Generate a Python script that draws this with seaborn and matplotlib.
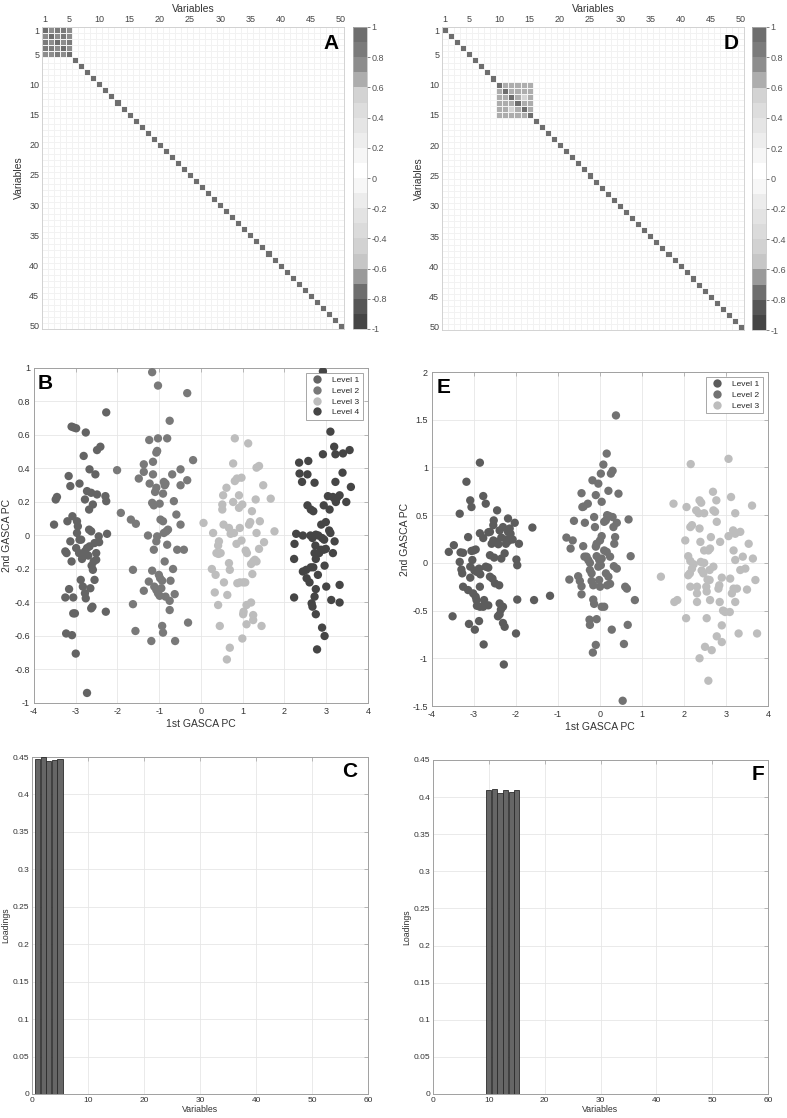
import numpy as np
import pandas as pd
import matplotlib
matplotlib.use("Agg")
import matplotlib.pyplot as plt
import seaborn as sns
from matplotlib.colors import ListedColormap

sns.set_style("white")
plt.rcParams['font.family'] = ['Liberation Sans', 'DejaVu Sans']
plt.rcParams['axes.unicode_minus'] = False

# ---------------- data ----------------
variables = list(range(1, 51))
var_ticks = [1, 5, 10, 15, 20, 25, 30, 35, 40, 45, 50]

block_a_vars = [1, 2, 3, 4, 5]
block_a_corr = [
    [1.00, 0.78, 0.83, 0.84, 0.76],
    [0.78, 1.00, 0.77, 0.82, 0.74],
    [0.83, 0.77, 1.00, 0.79, 0.81],
    [0.84, 0.82, 0.79, 1.00, 0.78],
    [0.76, 0.74, 0.81, 0.78, 1.00],
]
block_d_vars = [10, 11, 12, 13, 14, 15]
block_d_corr = [
    [1.00, 0.65, 0.64, 0.66, 0.63, 0.65],
    [0.65, 1.00, 0.66, 0.64, 0.65, 0.64],
    [0.64, 0.66, 1.00, 0.65, 0.55, 0.66],
    [0.66, 0.64, 0.65, 1.00, 0.64, 0.65],
    [0.63, 0.65, 0.55, 0.64, 1.00, 0.66],
    [0.65, 0.64, 0.66, 0.65, 0.66, 1.00],
]
cbar_colors = ['#454545', '#565656', '#6e6e6e', '#9a9a9a', '#c6c6c6',
               '#d2d2d2', '#dbdbdb', '#e3e3e3', '#ececec', '#f7f7f7',
               '#ffffff', '#f6f6f6', '#ededed', '#e5e5e5', '#dddddd',
               '#d3d3d3', '#adadad', '#8d8d8d', '#7b7b7b', '#6e6e6e']
cbar_ticks = [-1, -0.8, -0.6, -0.4, -0.2, 0, 0.2, 0.4, 0.6, 0.8, 1]

b_l1_x = [-3.52, -3.48, -3.45, -3.25, -3.22, -3.25, -3.20, -3.17, -3.16, -3.13, -3.13, -3.10, -3.10, -3.05,
          -2.99, -3.23, -3.09, -3.06, -3.02, -3.06, -3.08, -3.00, -2.97, -2.95, -2.97, -2.91, -2.91, -2.88,
          -2.87, -2.99, -2.92, -2.83, -2.78, -2.73, -2.67, -2.83, -2.81, -2.78, -2.76, -2.78, -2.76, -2.73,
          -2.63, -2.73, -2.68, -2.68, -2.63, -2.67, -2.65, -2.63, -2.60, -2.59, -2.55, -2.59, -2.57, -2.51,
          -2.53, -2.49, -2.49, -2.41, -2.51, -2.55, -2.45, -2.44, -2.29, -2.27, -2.27, -2.28, -2.25,
          -2.85, -2.70, -2.62]
b_l1_y = [0.065, 0.215, 0.23, -0.095, -0.105, -0.37, 0.085, 0.355, -0.32, 0.295, -0.035, -0.155, 0.65, 0.645,
          0.64, -0.585, -0.595, -0.465, -0.465, -0.37, 0.115, -0.705, 0.085, 0.055, 0.015, -0.025, 0.31, -0.265,
          -0.025, -0.075, -0.105, -0.125, -0.095, -0.075, -0.065, -0.305, 0.475, 0.215, 0.615, -0.345, -0.375, 0.265,
          0.255, -0.94, 0.155, 0.035, 0.025, 0.395, -0.315, -0.435, -0.425, 0.185, -0.045, -0.205, -0.155, -0.145,
          0.365, 0.245, 0.51, 0.53, -0.105, -0.265, -0.005, -0.04, 0.235, 0.205, 0.735, -0.455, 0.01,
          -0.14, -0.12, -0.18]

b_l2_x = [-2.01, -1.92, -1.68, -1.56, -1.63, -1.63, -1.57, -1.49, -1.37, -1.37, -1.37, -1.27, -1.25, -1.24,
          -1.23, -1.19, -1.17, -1.15, -1.15, -1.17, -1.13, -1.17, -1.13, -1.12, -1.10, -1.07, -1.07, -1.05,
          -1.03, -1.05, -1.07, -1.03, -1.07, -1.03, -0.99, -1.01, -0.98, -0.93, -0.99, -0.97, -0.91, -0.95,
          -0.91, -0.89, -0.87, -0.85, -0.93, -0.91, -0.89, -0.83, -0.79, -0.85, -0.87, -0.81, -0.81, -0.75,
          -0.75, -0.75, -0.73, -0.69, -0.67, -0.65, -0.63, -0.62, -0.59, -0.57, -0.49, -0.49, -0.49, -0.41,
          -0.33, -0.33, -0.31, -0.19]
b_l2_y = [0.39, 0.135, 0.095, 0.07, -0.205, -0.41, -0.57, 0.34, 0.38, 0.425, -0.33, 0.0, -0.275, 0.57,
          0.31, -0.63, 0.975, 0.365, 0.44, -0.21, 0.18, 0.195, -0.085, -0.305, 0.26, 0.285, 0.495, 0.505,
          0.58, -0.005, -0.035, 0.895, -0.325, -0.345, -0.36, -0.235, -0.255, -0.27, 0.19, 0.095, 0.085, -0.315,
          0.25, 0.32, 0.30, 0.31, -0.54, -0.58, 0.015, 0.025, 0.035, -0.365, -0.155, 0.58, -0.055, 0.685,
          -0.39, -0.445, -0.27, 0.365, -0.20, 0.205, -0.35, -0.63, 0.125, -0.085, 0.395, 0.30, 0.065, -0.085,
          0.85, 0.33, -0.52, 0.45]

b_l3_x = [0.06, 0.29, 0.26, 0.33, 0.35, 0.41, 0.45, 0.41, 0.43, 0.37, 0.42, 0.47, 0.53, 0.51, 0.51, 0.54,
          0.55, 0.61, 0.63, 0.62, 0.69, 0.67, 0.67, 0.69, 0.71, 0.77, 0.77, 0.79, 0.81, 0.81, 0.86, 0.85,
          0.87, 0.91, 0.91, 0.93, 0.93, 1.01, 1.06, 0.97, 0.97, 0.99, 0.99, 1.01, 1.02, 1.07, 1.09, 1.09,
          1.10, 1.13, 1.15, 1.18, 1.20, 1.20, 1.22, 1.23, 1.25, 1.29, 1.33, 1.25, 1.25, 1.31, 1.33, 1.33,
          1.39, 1.41, 1.39, 1.45, 1.49, 1.51, 1.67, 1.76]
b_l3_y = [0.075, 0.015, -0.20, -0.34, -0.235, -0.415, -0.54, -0.06, -0.035, -0.105, -0.11, -0.105, 0.24, 0.185,
          0.155, 0.065, -0.28, 0.285, -0.355, -0.74, -0.67, 0.045, -0.165, -0.205, 0.01, 0.43, 0.20, 0.015,
          0.58, 0.325, 0.34, -0.05, -0.285, 0.24, 0.165, 0.045, -0.28, -0.28, -0.28, 0.345, -0.03, 0.185,
          -0.615, -0.47, -0.455, -0.09, -0.415, -0.53, -0.105, 0.55, 0.065, 0.08, -0.17, -0.40, 0.145, -0.23,
          -0.155, -0.145, -0.155, -0.505, -0.475, 0.215, 0.015, 0.405, 0.415, 0.085, -0.08, -0.54, 0.30, -0.04,
          0.22, 0.025]

b_l4_x = [2.23, 2.23, 2.24, 2.28, 2.44, 2.35, 2.36, 2.42, 2.44, 2.52, 2.53, 2.60, 2.55, 2.57, 2.55, 2.63,
          2.69, 2.62, 2.67, 2.63, 2.69, 2.65, 2.67, 2.72, 2.72, 2.74, 2.75, 2.75, 2.72, 2.75, 2.75, 2.81,
          2.78, 2.80, 2.83, 2.87, 2.94, 2.99, 2.88, 2.90, 2.95, 2.90, 2.92, 2.92, 2.94, 2.96, 2.96, 2.99,
          3.00, 3.04, 3.07, 3.10, 3.08, 3.10, 3.12, 3.16, 3.20, 3.26, 3.32, 3.19, 3.22, 3.22, 3.20, 3.16,
          3.23, 3.32, 3.32, 3.39, 3.40, 3.48, 3.56, 3.59]
b_l4_y = [-0.37, -0.14, -0.05, 0.01, 0.0, 0.435, 0.37, 0.32, -0.215, -0.205, -0.255, -0.28, 0.365, 0.445,
          0.18, 0.155, 0.145, 0.0, -0.015, -0.19, -0.19, -0.405, -0.425, 0.315, -0.365, -0.06, -0.32, -0.14,
          -0.105, -0.47, 0.005, 0.0, -0.68, -0.235, -0.105, -0.085, -0.085, -0.08, 0.065, -0.015, -0.025, -0.55,
          0.485, 0.98, 0.18, -0.60, -0.18, 0.08, -0.305, 0.235, 0.03, 0.015, 0.155, 0.62, -0.385, 0.23,
          0.22, 0.225, 0.24, 0.53, 0.485, 0.32, -0.035, -0.105, 0.20, -0.295, -0.40, 0.375, 0.49, 0.20,
          0.51, 0.29]

e_l1_x = [-3.60, -3.48, -3.51, -3.34, -3.32, -3.26, -3.34, -3.30, -3.28, -3.26, -3.18, -3.14, -3.14, -3.12,
          -3.09, -3.09, -3.09, -3.06, -3.06, -3.01, -2.96, -3.04, -3.02, -2.96, -2.94, -2.98, -2.99, -2.93,
          -2.88, -2.93, -2.86, -2.86, -2.88, -2.86, -2.85, -2.86, -2.78, -2.78, -2.77, -2.76, -2.78, -2.72,
          -2.72, -2.66, -2.66, -2.66, -2.62, -2.62, -2.62, -2.56, -2.58, -2.54, -2.53, -2.54, -2.52, -2.50,
          -2.46, -2.42, -2.45, -2.43, -2.39, -2.40, -2.39, -2.39, -2.36, -2.31, -2.35, -2.35, -2.31, -2.31,
          -2.29, -2.27, -2.27, -2.24, -2.23, -2.18, -2.19, -2.19, -2.13, -2.15, -2.08, -2.03, -2.00, -1.97,
          -1.97, -1.99, -1.93, -1.61, -1.57, -1.19]
e_l1_y = [0.115, 0.185, -0.56, 0.515, 0.11, 0.105, 0.01, -0.07, -0.11, -0.25, 0.85, 0.27, -0.285, -0.64,
          -0.04, -0.155, 0.655, 0.585, 0.125, 0.13, 0.14, 0.03, -0.32, -0.355, -0.39, -0.70, -0.08, -0.095,
          -0.06, -0.45, -0.46, 0.31, -0.61, -0.25, -0.12, 1.05, 0.70, 0.26, -0.855, -0.39, -0.46, 0.62,
          -0.04, -0.05, -0.445, 0.32, 0.325, 0.08, -0.145, -0.165, 0.20, 0.235, 0.445, 0.395, 0.055, -0.215,
          0.22, 0.195, 0.55, -0.56, -0.54, -0.235, 0.34, -0.425, -0.49, -0.46, 0.045, 0.265, -0.63, 0.375,
          -1.065, -0.67, 0.10, 0.20, 0.245, 0.23, 0.465, 0.325, 0.305, 0.36, 0.245, 0.42, -0.74, -0.385,
          -0.025, 0.035, 0.20, 0.37, -0.39, -0.345]

e_l2_x = [-0.80, -0.73, -0.70, -0.65, -0.62, -0.52, -0.48, -0.44, -0.44, -0.44, -0.42, -0.39, -0.40, -0.37,
          -0.36, -0.32, -0.28, -0.24, -0.29, -0.25, -0.24, -0.24, -0.20, -0.20, -0.16, -0.18, -0.17, -0.16,
          -0.14, -0.14, -0.12, -0.10, -0.10, -0.08, -0.10, -0.08, -0.08, -0.02, 0.04, -0.04, -0.04, 0.02,
          -0.02, 0.00, 0.00, 0.02, 0.04, 0.04, 0.04, 0.10, 0.08, 0.10, 0.14, 0.10, 0.16, 0.14, 0.20,
          0.16, 0.17, 0.22, 0.17, 0.24, 0.20, 0.24, 0.26, 0.30, 0.28, 0.30, 0.32, 0.33, 0.40, 0.34,
          0.36, 0.38, 0.40, 0.44, 0.54, 0.57, 0.60, 0.64, 0.66, 0.68, 0.73, 0.83]
e_l2_y = [0.265, -0.175, 0.15, 0.235, 0.44, -0.14, -0.19, 0.73, -0.245, -0.33, 0.585, 0.59, 0.175, 0.065,
          0.42, 0.065, 0.03, 0.0, 0.62, -0.595, -0.65, -0.075, -0.11, -0.19, -0.235, 0.865, -0.94, -0.385,
          -0.43, 0.48, 0.375, 0.71, 0.17, 0.20, -0.86, -0.59, 0.07, 0.03, 0.045, 0.83, -0.04, -0.025,
          -0.18, 0.235, -0.25, 0.935, 0.64, 0.28, -0.46, -0.46, 1.03, 0.43, 0.445, 0.13, 0.115, -0.11, -0.145,
          1.145, 0.50, 0.49, -0.235, -0.22, 0.755, 0.065, 0.935, 0.965, -0.70, 0.48, 0.375, -0.035, -0.06, 0.20,
          0.27, 1.545, 0.42, 0.725, -1.445, -0.85, -0.25, -0.27, -0.65, 0.455, 0.07, -0.39]

e_l3_x = [1.45, 1.75, 1.77, 1.84, 2.03, 2.05, 2.06, 2.10, 2.15, 2.15, 2.19, 2.16, 2.10, 2.14, 2.15, 2.19,
          2.23, 2.29, 2.35, 2.31, 2.31, 2.31, 2.37, 2.41, 2.37, 2.37, 2.39, 2.40, 2.48, 2.42, 2.46, 2.48,
          2.48, 2.50, 2.53, 2.54, 2.54, 2.56, 2.61, 2.58, 2.58, 2.62, 2.61, 2.62, 2.64, 2.66, 2.69, 2.70,
          2.70, 2.74, 2.77, 2.78, 2.78, 2.82, 2.84, 2.85, 2.86, 2.90, 2.90, 2.90, 2.93, 2.98, 3.06, 3.06,
          3.09, 3.10, 3.12, 3.14, 3.18, 3.17, 3.22, 3.18, 3.22, 3.22, 3.22, 3.26, 3.30, 3.34, 3.34, 3.40,
          3.46, 3.50, 3.54, 3.62, 3.64, 3.70, 3.74]
e_l3_y = [-0.145, 0.62, -0.41, -0.39, 0.235, -0.58, 0.585, 0.07, 0.02, 0.375, 0.395, 1.035, -0.13, -0.11,
          -0.25, -0.06, -0.015, 0.55, 0.52, -0.32, -0.25, -0.41, 0.655, 0.63, 0.36, -1.00, 0.22, 0.01,
          0.0, -0.08, -0.11, 0.52, 0.13, -0.88, -0.25, -0.30, -0.58, -0.175, -0.18, -1.235, 0.13, 0.15,
          -0.075, -0.39, 0.27, -0.915, 0.745, -0.04, 0.55, 0.535, 0.655, 0.43, -0.77, -0.27, -0.235, -0.41,
          0.22, -0.655, -0.83, -0.155, -0.50, -0.515, 1.09, 0.28, -0.515, -0.165, 0.69, -0.32, -0.27, 0.34,
          0.305, 0.13, 0.52, 0.03, -0.41, -0.27, -0.74, 0.325, -0.075, 0.065, -0.06, -0.28, 0.20, 0.60,
          0.045, -0.18, -0.74]

loadings_c = [0.447, 0.450, 0.445, 0.446, 0.447] + [0.0] * 45
loadings_f = [0.0] * 9 + [0.409, 0.411, 0.405, 0.409, 0.407, 0.409] + [0.0] * 35

# ---------------- figure ----------------
W, H = 787, 1118
fig = plt.figure(figsize=(W / 100, H / 100), dpi=100)


def rect(l, t, r, b):
    return [l / W, 1 - b / H, (r - l) / W, (b - t) / H]


SPINE = '#a0a0a0'
TXT = '#333333'
cmap = ListedColormap(cbar_colors)


def corr_frame(block_vars, block_corr):
    m = np.eye(len(variables))
    idx = np.array(block_vars) - 1
    m[np.ix_(idx, idx)] = np.array(block_corr)
    return pd.DataFrame(m, index=variables, columns=variables)


def draw_heat(r_ax, r_cb, mat, letter):
    ax = fig.add_axes(r_ax)
    cax = fig.add_axes(r_cb)
    sns.heatmap(mat, ax=ax, cbar_ax=cax, cmap=cmap, vmin=-1, vmax=1,
                linewidths=0.45, linecolor='#f2f2f2',
                xticklabels=False, yticklabels=False)
    pos = [v - 0.5 for v in var_ticks]
    ax.set_xticks(pos)
    ax.set_xticklabels([str(v) for v in var_ticks])
    ax.set_yticks(pos)
    ax.set_yticklabels([str(v) for v in var_ticks], rotation=0)
    ax.xaxis.tick_top()
    ax.xaxis.set_label_position('top')
    ax.set_xlabel('Variables', fontsize=7.5, color=TXT, labelpad=2)
    ax.set_ylabel('Variables', fontsize=7.5, color=TXT, labelpad=4)
    ax.tick_params(length=0, labelsize=6.5, labelcolor='#444444', pad=2)
    for s in ax.spines.values():
        s.set_visible(True)
        s.set_color('#cccccc')
        s.set_linewidth(0.6)
    ax.text(0.983, 0.978, letter, transform=ax.transAxes, ha='right', va='top',
            fontsize=15, fontweight='bold', color='black')
    cbar = ax.collections[0].colorbar
    cbar.set_ticks(cbar_ticks)
    cbar.set_ticklabels([f'{t:g}' for t in cbar_ticks])
    cax.tick_params(labelsize=6.5, length=2, width=0.5, colors='#555555', pad=1)
    cbar.outline.set_edgecolor('#bbbbbb')
    cbar.outline.set_linewidth(0.5)


def style_axes(ax, labelsize):
    ax.grid(True, color='#e6e6e6', linewidth=0.6)
    ax.set_axisbelow(True)
    for s in ax.spines.values():
        s.set_visible(True)
        s.set_color(SPINE)
        s.set_linewidth(0.7)
    ax.tick_params(direction='in', length=3, width=0.5, color=SPINE,
                   labelcolor=TXT, labelsize=labelsize, top=True, right=True, pad=3)


def draw_scatter(r_ax, levels, palette, ylim, yticks, letter, lx):
    ax = fig.add_axes(r_ax)
    frames = []
    for name, (xs, ys) in levels.items():
        frames.append(pd.DataFrame({'x': xs, 'y': ys, 'Level': name}))
    df = pd.concat(frames, ignore_index=True)
    sns.scatterplot(data=df, x='x', y='y', hue='Level', palette=palette,
                    s=36, linewidth=0, ax=ax, zorder=3)
    ax.set_xlim(-4, 4)
    ax.set_ylim(*ylim)
    ax.set_xticks(range(-4, 5))
    ax.set_yticks(yticks)
    ax.set_yticklabels([f'{t:g}' for t in yticks])
    style_axes(ax, 6.5)
    ax.set_xlabel('1st GASCA PC', fontsize=7.5, color=TXT, labelpad=2)
    ax.set_ylabel('2nd GASCA PC', fontsize=7.5, color=TXT, labelpad=1.5)
    sns.move_legend(ax, 'upper right', title=None, frameon=True, fancybox=False,
                    edgecolor='#999999', fontsize=6, borderaxespad=0.6,
                    labelspacing=0.35, handletextpad=0.8, borderpad=0.4,
                    framealpha=1)
    ax.get_legend().get_frame().set_linewidth(0.6)
    ax.text(lx, 0.982, letter, transform=ax.transAxes, ha='left', va='top',
            fontsize=15, fontweight='bold', color='black', zorder=5)


def draw_bars(r_ax, loadings, letter, lx):
    ax = fig.add_axes(r_ax)
    df = pd.DataFrame({'Variable': variables, 'Loading': loadings})
    sns.barplot(data=df, x='Variable', y='Loading', native_scale=True, width=0.9,
                color='#666666', saturation=1, edgecolor='#2b2b2b', linewidth=0.6,
                errorbar=None, ax=ax, zorder=3)
    ax.set_xlim(0, 60)
    ax.set_ylim(0, 0.45)
    ax.set_xticks(range(0, 61, 10))
    yt = [round(0.05 * i, 2) for i in range(10)]
    ax.set_yticks(yt)
    ax.set_yticklabels([f'{t:g}' for t in yt])
    style_axes(ax, 6)
    ax.tick_params(pad=2)
    ax.set_xlabel('Variables', fontsize=6.3, color=TXT, labelpad=1)
    ax.set_ylabel('Loadings', fontsize=6.3, color=TXT, labelpad=1.5)
    ax.text(lx, 0.985, letter, transform=ax.transAxes, ha='right', va='top',
            fontsize=15, fontweight='bold', color='black', zorder=5)


# A / D heatmaps
draw_heat(rect(42, 27, 344, 329), rect(353, 27, 367, 329),
          corr_frame(block_a_vars, block_a_corr), 'A')
draw_heat(rect(442, 27, 744, 330), rect(752, 27, 766, 330),
          corr_frame(block_d_vars, block_d_corr), 'D')

# B / E scatter plots
pal_b = {'Level 1': '#646464', 'Level 2': '#797979', 'Level 3': '#bdbdbd', 'Level 4': '#454545'}
draw_scatter(rect(34, 368, 368, 703),
             {'Level 1': (b_l1_x, b_l1_y), 'Level 2': (b_l2_x, b_l2_y),
              'Level 3': (b_l3_x, b_l3_y), 'Level 4': (b_l4_x, b_l4_y)},
             pal_b, (-1, 1), [round(-1 + 0.2 * i, 1) for i in range(11)], 'B', 0.012)
pal_e = {'Level 1': '#5c5c5c', 'Level 2': '#727272', 'Level 3': '#bdbdbd'}
draw_scatter(rect(432, 372, 768, 706),
             {'Level 1': (e_l1_x, e_l1_y), 'Level 2': (e_l2_x, e_l2_y),
              'Level 3': (e_l3_x, e_l3_y)},
             pal_e, (-1.5, 2), [-1.5, -1, -0.5, 0, 0.5, 1, 1.5, 2], 'E', 0.015)

# C / F loadings
draw_bars(rect(32, 757, 368, 1094), loadings_c, 'C', 0.967)
draw_bars(rect(433, 760, 768, 1094), loadings_f, 'F', 0.99)

fig.savefig('out.png', dpi=100, facecolor='white')
